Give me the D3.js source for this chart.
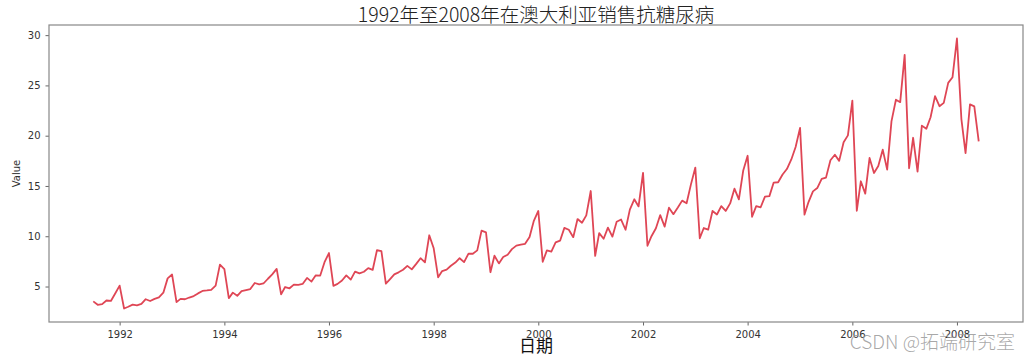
<!DOCTYPE html>
<html>
<head>
<meta charset="utf-8">
<script src="https://cdn.jsdelivr.net/npm/d3@7"></script>
<style>
  html, body { margin: 0; padding: 0; background: #fff; }
  svg { display: block; }
</style>
</head>
<body>
<svg id="chart" width="1031" height="360"></svg>
<script>
// Monthly antidiabetic drug sales in Australia, 1991-07 .. 2008-06
const startMonth = "1991-07";
const values = [
  3.526591, 3.180891, 3.252221, 3.611003, 3.565869, 4.306371,
  5.088335, 2.814520, 2.985811, 3.204780, 3.127578, 3.270523,
  3.737851, 3.558776, 3.777202, 3.924490, 4.386531, 5.810549,
  6.192068, 3.450857, 3.772307, 3.734303, 3.905399, 4.049687,
  4.315566, 4.562185, 4.608662, 4.667851, 5.093841, 7.179962,
  6.731473, 3.841278, 4.394076, 4.075341, 4.540645, 4.645615,
  4.752607, 5.350605, 5.204455, 5.301651, 5.773742, 6.204593,
  6.749484, 4.216067, 4.949349, 4.823045, 5.194754, 5.170787,
  5.256742, 5.855277, 5.490729, 6.115293, 6.088473, 7.416598,
  8.329452, 5.069796, 5.262557, 5.597126, 6.110296, 5.689161,
  6.486849, 6.300569, 6.467476, 6.828629, 6.649078, 8.606937,
  8.524471, 5.277918, 5.714303, 6.214529, 6.411929, 6.667716,
  7.050831, 6.704919, 7.250988, 7.819733, 7.398101, 10.096233,
  8.798513, 5.918261, 6.534493, 6.675736, 7.064201, 7.383381,
  7.813496, 7.431892, 8.275117, 8.260441, 8.596156, 10.558939,
  10.391416, 6.421535, 8.062619, 7.297739, 7.936916, 8.165323,
  8.717420, 9.070964, 9.177113, 9.251887, 9.933136, 11.532974,
  12.511462, 7.457199, 8.591191, 8.474000, 9.386803, 9.560399,
  10.834295, 10.643751, 9.908162, 11.710041, 11.340151, 12.079132,
  14.497581, 8.049275, 10.312891, 9.753358, 10.850382, 9.961719,
  11.443601, 11.659239, 10.647060, 12.652134, 13.674466, 12.965735,
  16.300269, 9.053485, 10.002449, 10.788750, 12.106705, 10.954101,
  12.844566, 12.196500, 12.854748, 13.542004, 13.287640, 15.134918,
  16.828350, 9.800215, 10.816994, 10.654223, 12.512323, 12.161210,
  12.998046, 12.517276, 13.268658, 14.733622, 13.669382, 16.503966,
  18.003768, 11.938030, 12.997900, 12.882645, 13.943447, 13.989472,
  15.339097, 15.370764, 16.142005, 16.685754, 17.636728, 18.869325,
  20.778723, 12.154552, 13.402392, 14.459239, 14.795102, 15.705248,
  15.829550, 17.554701, 18.100864, 17.496668, 19.347265, 20.031291,
  23.486694, 12.536987, 15.467018, 14.233539, 17.783058, 16.291602,
  16.980282, 18.612189, 16.623343, 21.430241, 23.575517, 23.334206,
  28.038383, 16.763869, 19.792754, 16.427305, 21.000742, 20.681002,
  21.834890, 23.930204, 22.930357, 23.263340, 25.250030, 25.806090,
  29.665356, 21.654285, 18.264945, 23.107677, 22.912510, 19.431740
];
const yTicks = [5, 10, 15, 20, 25, 30];
const xTickYears = [1992, 1994, 1996, 1998, 2000, 2002, 2004, 2006, 2008];
const titleText = "1992年至2008年在澳大利亚销售抗糖尿病";
const xLabelText = "日期";
const yLabelText = "Value";
const watermarkText = "CSDN @拓端研究室";

const parseMonth = d3.timeParse("%Y-%m");
const t0 = parseMonth(startMonth);
const data = values.map((v, i) => ({ date: d3.timeMonth.offset(t0, i), value: v }));

const svg = d3.select("#chart");
const m = { left: 49, top: 25, right: 1031 - 1023, bottom: 360 - 322 };
const W = 1031 - m.left - m.right, H = 360 - m.top - m.bottom;

// matplotlib-like 5% margins
const xExt = d3.extent(data, d => d.date);
const xSpan = xExt[1] - xExt[0];
const x = d3.scaleTime()
  .domain([new Date(+xExt[0] - 0.05 * xSpan), new Date(+xExt[1] + 0.05 * xSpan)])
  .range([0, W]);
const yExt = d3.extent(values);
const ySpan = yExt[1] - yExt[0];
const y = d3.scaleLinear()
  .domain([yExt[0] - 0.05 * ySpan, yExt[1] + 0.05 * ySpan])
  .range([H, 0]);

const g = svg.append("g").attr("transform", `translate(${m.left},${m.top})`);

// axes
const xAxis = d3.axisBottom(x)
  .tickValues(xTickYears.map(yr => new Date(yr, 0, 1)))
  .tickFormat(d3.timeFormat("%Y"))
  .tickSize(3.5).tickPadding(5);
const yAxis = d3.axisLeft(y).tickValues(yTicks).tickSize(3.5).tickPadding(5);

const gx = g.append("g").attr("transform", `translate(0,${H})`).call(xAxis);
const gy = g.append("g").call(yAxis);
[gx, gy].forEach(a => {
  a.select(".domain").remove();
  a.selectAll(".tick line").attr("stroke", "#555").attr("stroke-width", 0.9);
  a.selectAll(".tick text")
    .attr("fill", "#333")
    .style("font-family", "'DejaVu Sans', sans-serif")
    .style("font-size", "10px");
});

// frame
g.append("rect")
  .attr("x", 0).attr("y", 0).attr("width", W).attr("height", H)
  .attr("fill", "none").attr("stroke", "#888").attr("stroke-width", 1.2);

// line
const line = d3.line().x(d => x(d.date)).y(d => y(d.value));
g.append("path")
  .datum(data)
  .attr("fill", "none")
  .attr("stroke", "#df4655")
  .attr("stroke-width", 1.8)
  .attr("stroke-linejoin", "round")
  .attr("d", line);

// title
svg.append("text")
  .attr("x", m.left + W / 2).attr("y", 22)
  .attr("text-anchor", "middle")
  .attr("fill", "#222")
  .style("font-family", "'Noto Sans CJK SC', sans-serif")
  .style("font-weight", "300")
  .style("font-size", "19.5px")
  .text(titleText);

// y label
svg.append("text")
  .attr("transform", `translate(20,${m.top + H / 2}) rotate(-90)`)
  .attr("text-anchor", "middle")
  .attr("fill", "#333")
  .style("font-family", "'DejaVu Sans', sans-serif")
  .style("font-size", "10px")
  .text(yLabelText);

// x label
svg.append("text")
  .attr("x", m.left + W / 2).attr("y", 352)
  .attr("text-anchor", "middle")
  .attr("fill", "#111")
  .style("font-family", "'Noto Sans CJK SC', sans-serif")
  .style("font-size", "17px")
  .text(xLabelText);

// watermark
svg.append("text")
  .attr("x", 1015).attr("y", 349)
  .attr("text-anchor", "end")
  .attr("fill", "#999")
  .attr("fill-opacity", 0.85)
  .style("font-family", "'Noto Sans CJK SC', sans-serif")
  .style("font-weight", "300")
  .style("font-size", "19px")
  .text(watermarkText);
</script>
</body>
</html>
